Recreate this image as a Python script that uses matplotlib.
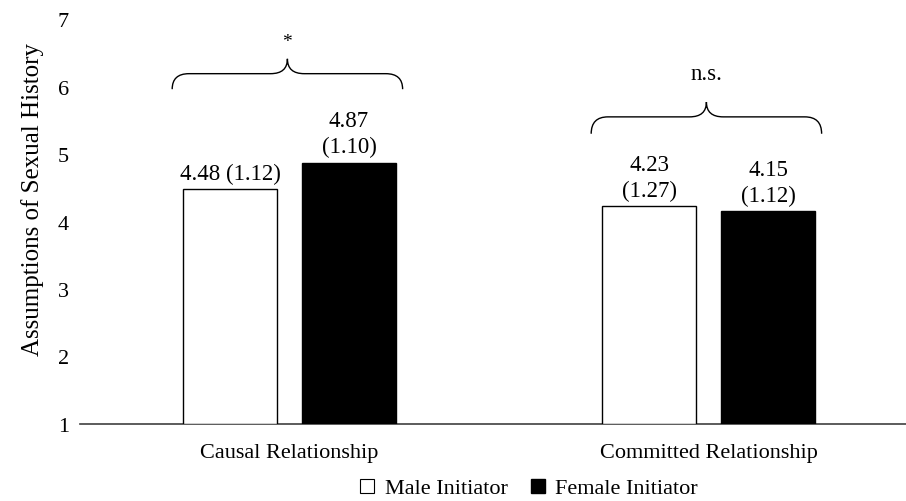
import matplotlib.pyplot as plt
import numpy as np
from matplotlib.path import Path
from matplotlib.patches import PathPatch
from matplotlib.lines import Line2D

plt.rcParams['font.family'] = ['Liberation Serif', 'DejaVu Serif']

# data
categories = ['Causal Relationship', 'Committed Relationship']
series = ['Male Initiator', 'Female Initiator']
male_means = [4.48, 4.23]
male_sds = [1.12, 1.27]
female_means = [4.87, 4.15]
female_sds = [1.10, 1.12]
male_labels = ['4.48 (1.12)', '4.23\n(1.27)']
female_labels = ['4.87\n(1.10)', '4.15\n(1.12)']
sig_labels = ['*', 'n.s.']
y_ticks = [1, 2, 3, 4, 5, 6, 7]

fig = plt.figure(figsize=(9.06, 5.02), dpi=100)
ax = fig.add_axes([80 / 906, 77 / 502, 826 / 906, 405 / 502])

x = np.arange(len(categories))
bw = 0.224
off = 0.142
base = 1

ax.bar(x - off, np.array(male_means) - base, bw, bottom=base, color='white',
       edgecolor='black', linewidth=1.0, zorder=3)
ax.bar(x + off, np.array(female_means) - base, bw, bottom=base, color='black',
       edgecolor='black', linewidth=1.0, zorder=3)

fs = 16.5
# value labels
for i in range(len(categories)):
    ax.text(x[i] - off, male_means[i] + 0.08, male_labels[i], ha='center', va='bottom',
            fontsize=fs, linespacing=1.3)
    ax.text(x[i] + off, female_means[i] + 0.08, female_labels[i], ha='center', va='bottom',
            fontsize=fs, linespacing=1.3)


# braces
def brace(x0, x1, yb, yf, yp, dx=0.04):
    xm = (x0 + x1) / 2
    verts = [(x0, yb), (x0, yf), (x0 + dx, yf), (xm - dx, yf), (xm, yf), (xm, yp),
             (xm, yf), (xm + dx, yf), (x1 - dx, yf), (x1, yf), (x1, yb)]
    codes = [Path.MOVETO, Path.CURVE3, Path.CURVE3, Path.LINETO, Path.CURVE3, Path.CURVE3,
             Path.CURVE3, Path.CURVE3, Path.LINETO, Path.CURVE3, Path.CURVE3]
    return PathPatch(Path(verts, codes), fill=False, lw=1.0, color='black', clip_on=False)


brace_y = [(5.96, 6.19, 6.41), (5.30, 5.55, 5.77)]
sig_y = [6.66, 6.19]
for i in range(len(categories)):
    yb, yf, yp = brace_y[i]
    ax.add_patch(brace(x[i] - 0.28, x[i] + 0.27, yb, yf, yp))
    ax.text(x[i] - 0.005, sig_y[i], sig_labels[i], ha='center', va='center',
            fontsize=fs if i else 14)

ax.set_xlim(-0.5, -0.5 + 826 / 419)
ax.set_ylim(1, 7)
ax.set_yticks(y_ticks)
ax.set_xticks(x)
ax.set_xticklabels(categories)
ax.tick_params(axis='both', length=0, labelsize=16)
ax.tick_params(axis='y', pad=8)
ax.tick_params(axis='x', pad=14)
for s in ['top', 'right', 'left']:
    ax.spines[s].set_visible(False)
ax.spines['bottom'].set_color('#404040')
ax.spines['bottom'].set_linewidth(1.2)
ax.set_ylabel('Assumptions of Sexual History', fontsize=18)
ax.yaxis.set_label_coords(-0.043, 0.556)

handles = [Line2D([], [], marker='s', ls='none', markerfacecolor='white', markeredgecolor='black',
                  markersize=9.5, markeredgewidth=0.8),
           Line2D([], [], marker='s', ls='none', markerfacecolor='black', markeredgecolor='black',
                  markersize=9.5)]
fig.legend(handles, series, loc='center', bbox_to_anchor=(527 / 906, 1 - 489 / 502), ncol=2,
           frameon=False, fontsize=16, handletextpad=0.3, columnspacing=0.85, handlelength=1.0)

fig.savefig('out.png', dpi=100)
